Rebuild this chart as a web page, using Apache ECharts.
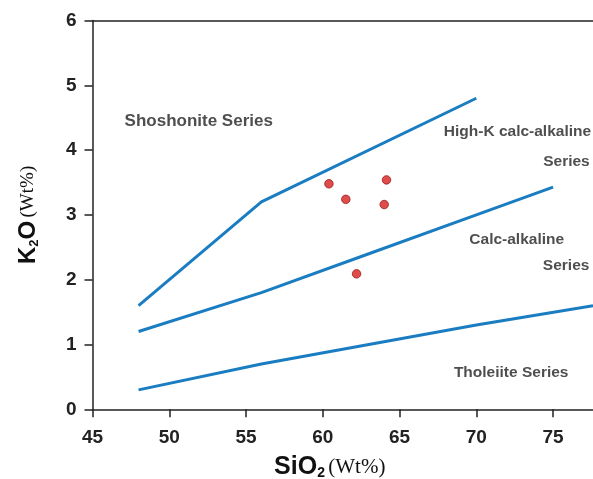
<!DOCTYPE html>
<html>
<head>
<meta charset="utf-8">
<script src="https://cdn.jsdelivr.net/npm/echarts@6/dist/echarts.min.js"></script>
<style>
html,body{margin:0;padding:0;background:#fff;}
#c{width:593px;height:479px;}
</style>
</head>
<body>
<div id="c"></div>
<script>
// Boundary lines (SiO2, K2O)
const shoshoniteLine = [[48, 1.6], [56, 3.2], [70, 4.8]];
const highKLine = [[48, 1.2], [56, 1.8], [63, 2.4], [70, 3.0], [75, 3.43]];
const tholeiiteLine = [[48, 0.3], [56, 0.7], [63, 1.0], [70, 1.3], [77.6, 1.6]];
// Samples
const sampleSiO2 = [60.4, 61.5, 64.15, 64.0, 62.2];
const sampleK2O = [3.48, 3.24, 3.54, 3.16, 2.09];
// Field labels
const fieldNames = ['Shoshonite Series', 'High-K calc-alkaline', 'Series', 'Calc-alkaline', 'Series', 'Tholeiite Series'];
const fieldSiO2 = [51.92, 72.68, 75.87, 72.63, 75.85, 72.27];
const fieldK2O = [4.45, 4.28, 3.82, 2.61, 2.21, 0.565];

const xTicks = [45, 50, 55, 60, 65, 70, 75];
const yTicks = [0, 1, 2, 3, 4, 5, 6];

const blue = '#1a7dc2';
const axisColor = '#222';

const lineSeries = [shoshoniteLine, highKLine, tholeiiteLine].map(d => ({
  type: 'line', data: d, symbol: 'none', silent: true,
  lineStyle: {color: blue, width: 3}, z: 2
}));

const chart = echarts.init(document.getElementById('c'), null, {renderer: 'canvas'});
chart.setOption({
  animation: false,
  backgroundColor: '#fff',
  grid: {left: 92.5, right: 0, top: 20.5, bottom: 69.7, containLabel: false, outerBoundsMode: 'none'},
  xAxis: [{
    type: 'value', min: 45, max: 77.6, interval: 5,
    name: '{b|SiO}{s|2} {r|(Wt%)}', nameLocation: 'middle', nameGap: 45,
    nameTextStyle: {
      padding: [0, 26, 0, 0],
      rich: {
        b: {fontFamily: 'Liberation Sans, Arial', fontWeight: 'bold', fontSize: 25, color: '#111'},
        s: {fontFamily: 'Liberation Sans, Arial', fontWeight: 'bold', fontSize: 14, color: '#111', padding: [12, 0, 0, 0]},
        r: {fontFamily: 'Liberation Serif, Times New Roman', fontSize: 21, color: '#111'}
      }
    },
    axisLine: {show: true, onZero: false, lineStyle: {color: axisColor, width: 1.5}},
    axisTick: {show: true, inside: false, length: 8, lineStyle: {color: axisColor, width: 1.5}},
    axisLabel: {
      showMaxLabel: false, margin: 19,
      fontFamily: 'Liberation Sans, Arial', fontWeight: 'bold', fontSize: 19, color: '#222',
      formatter: v => xTicks.includes(v) ? String(v) : ''
    },
    splitLine: {show: false}
  }, {
    type: 'value', position: 'top', min: 45, max: 77.6,
    axisLine: {show: true, onZero: false, lineStyle: {color: axisColor, width: 1.5}},
    axisTick: {show: false}, axisLabel: {show: false}, splitLine: {show: false}
  }],
  yAxis: {
    type: 'value', min: 0, max: 6, interval: 1,
    name: '{b|K}{s|2}{b|O} {r|(Wt%)}', nameLocation: 'middle', nameGap: 52, nameRotate: 90,
    nameTextStyle: {
      rich: {
        b: {fontFamily: 'Liberation Sans, Arial', fontWeight: 'bold', fontSize: 24, color: '#111'},
        s: {fontFamily: 'Liberation Sans, Arial', fontWeight: 'bold', fontSize: 13, color: '#111', padding: [12, 0, 0, 0]},
        r: {fontFamily: 'Liberation Serif, Times New Roman', fontSize: 19, color: '#111'}
      }
    },
    axisLine: {show: true, onZero: false, lineStyle: {color: axisColor, width: 1.5}},
    axisTick: {show: true, inside: false, length: 8, lineStyle: {color: axisColor, width: 1.5}},
    axisLabel: {
      margin: 16,
      fontFamily: 'Liberation Sans, Arial', fontWeight: 'bold', fontSize: 19, color: '#222',
      formatter: v => yTicks.includes(v) ? String(v) : ''
    },
    splitLine: {show: false}
  },
  series: [
    ...lineSeries,
    {
      type: 'scatter', data: sampleSiO2.map((x, i) => [x, sampleK2O[i]]),
      symbol: 'circle', symbolSize: 8.5, z: 5,
      itemStyle: {color: '#d81e1e', borderColor: '#9a1a1a', borderWidth: 1}
    },
    {
      type: 'scatter', silent: true, symbolSize: 0, z: 6,
      data: fieldNames.map((n, i) => ({
        value: [fieldSiO2[i], fieldK2O[i]], name: n,
        label: {fontSize: i === 0 ? 17 : 15.5}
      })),
      label: {
        show: true, position: 'inside', formatter: p => p.name,
        fontFamily: 'Liberation Sans, Arial', fontWeight: 'bold', color: '#222'
      }
    }
  ]
});
</script>
</body>
</html>
